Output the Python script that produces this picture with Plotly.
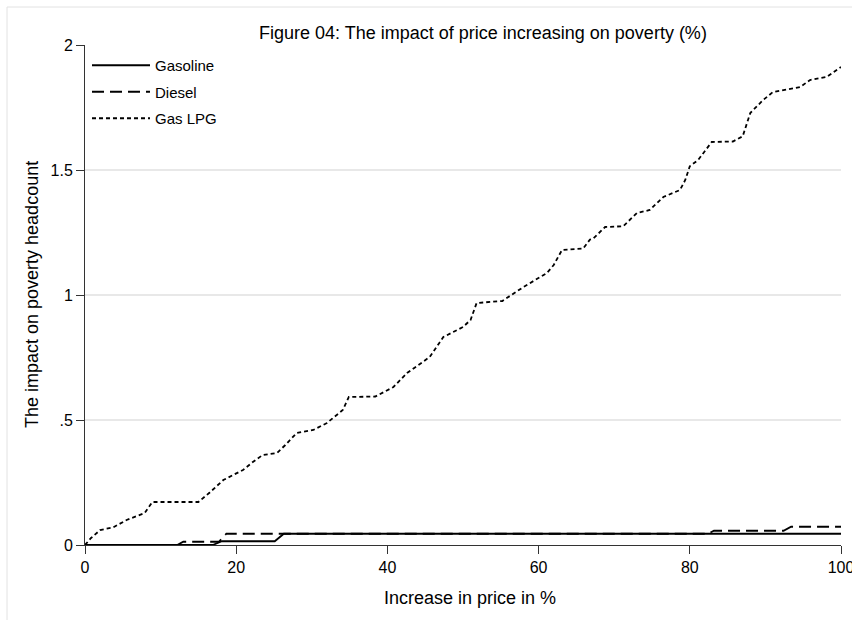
import plotly.graph_objects as go

# Price increase (%) and impact on poverty headcount for each fuel
gasoline_x = [0, 16.9, 18.1, 25.1, 26.3, 100]
gasoline_y = [0, 0, 0.015, 0.015, 0.045, 0.045]

diesel_x = [0, 12.2, 13.0, 17.7, 18.7, 82.4, 83.2, 92.4, 93.4, 100]
diesel_y = [0, 0, 0.013, 0.013, 0.045, 0.045, 0.057, 0.057, 0.073, 0.073]

lpg_x = [0, 0.8, 2.0, 3.7, 5.5, 7.9, 8.9, 15.0, 16.5, 18.3, 20.9, 22.2, 23.5,
         25.4, 26.5, 28.0, 30.2, 32.0, 34.1, 34.9, 38.4, 40.0, 40.8, 42.6,
         45.6, 47.4, 50.0, 51.0, 51.8, 55.2, 58.0, 61.1, 62.0, 63.1, 65.9,
         66.8, 67.2, 68.8, 71.2, 73.0, 74.7, 76.5, 78.7, 79.4, 80.0, 81.1,
         82.9, 85.7, 87.0, 88.0, 89.7, 91.0, 94.6, 95.9, 98.1, 100]
lpg_y = [0, 0.028, 0.06, 0.07, 0.10, 0.128, 0.172, 0.172, 0.21, 0.26, 0.30,
         0.332, 0.36, 0.368, 0.40, 0.448, 0.46, 0.488, 0.54, 0.592, 0.594,
         0.62, 0.632, 0.688, 0.752, 0.832, 0.872, 0.90, 0.968, 0.976, 1.032,
         1.088, 1.12, 1.18, 1.186, 1.222, 1.225, 1.272, 1.275, 1.328, 1.34,
         1.392, 1.42, 1.46, 1.515, 1.54, 1.612, 1.614, 1.635, 1.728, 1.78,
         1.812, 1.832, 1.86, 1.872, 1.912]

x_ticks = [0, 20, 40, 60, 80, 100]
y_ticks = [0, 0.5, 1, 1.5, 2]
y_tick_text = ["0", ".5", "1", "1.5", "2"]

FONT = "Liberation Sans, Arial, sans-serif"
AXIS_COLOR = "#333333"

# plot area in pixels: left 85, right 841, top 45, bottom 545
PL, PW, PT, PH = 85, 756, 45, 500

fig = go.Figure()
fig.add_trace(go.Scatter(x=gasoline_x, y=gasoline_y, mode="lines", name="Gasoline",
                         legendgroup="g1",
                         line=dict(color="black", width=1.8, dash="solid")))
fig.add_trace(go.Scatter(x=diesel_x, y=diesel_y, mode="lines", name="Diesel",
                         legendgroup="g2",
                         line=dict(color="black", width=1.8, dash="12px,6px")))
fig.add_trace(go.Scatter(x=lpg_x, y=lpg_y, mode="lines", name="Gas LPG",
                         legendgroup="g3",
                         line=dict(color="black", width=1.8, dash="4px,3px")))

# Light outer frame of the graph region
fig.add_shape(type="rect", xref="paper", yref="paper",
              x0=(7 - PL) / PW, x1=(900 - PL) / PW,
              y0=-0.3, y1=1 + (PT - 7) / PH,
              line=dict(color="#e2e2e2", width=1), layer="below")

fig.update_layout(
    width=852, height=620,
    margin=dict(l=PL, r=852 - PL - PW, t=PT, b=620 - PT - PH, autoexpand=False),
    paper_bgcolor="white", plot_bgcolor="white",
    font=dict(family=FONT, color="black"),
    showlegend=True,
    legend=dict(x=2 / PW, y=1 - 4 / PH, xanchor="left", yanchor="top",
                bgcolor="rgba(0,0,0,0)", font=dict(size=15, family=FONT),
                tracegroupgap=4, itemwidth=58),
    annotations=[
        dict(text="Figure 04: The impact of price increasing on poverty (%)",
             xref="paper", yref="paper", x=(483 - PL) / PW, y=1 + (PT - 33) / PH,
             xanchor="center", yanchor="middle", showarrow=False,
             font=dict(size=18, family=FONT)),
        dict(text="Increase in price in %",
             xref="paper", yref="paper", x=(470 - PL) / PW, y=-(598 - PT - PH) / PH,
             xanchor="center", yanchor="middle", showarrow=False,
             font=dict(size=18, family=FONT)),
        dict(text="The impact on poverty headcount",
             xref="paper", yref="paper", x=(32 - PL) / PW, y=0.5,
             xanchor="center", yanchor="middle", showarrow=False, textangle=-90,
             font=dict(size=18, family=FONT)),
    ],
)

fig.update_xaxes(
    range=[0, 100], tickvals=x_ticks, automargin=False,
    showline=True, linecolor=AXIS_COLOR, linewidth=1,
    ticks="outside", ticklen=8, tickcolor=AXIS_COLOR,
    showgrid=False, zeroline=False, ticklabeloverflow="allow",
    tickfont=dict(size=16),
)
fig.update_yaxes(
    range=[0, 2], tickvals=y_ticks, ticktext=y_tick_text, automargin=False,
    showline=True, linecolor=AXIS_COLOR, linewidth=1,
    ticks="outside", ticklen=8, tickcolor=AXIS_COLOR,
    showgrid=True, gridcolor="#e8e8e8", gridwidth=1.5, zeroline=False,
    tickfont=dict(size=16),
)

fig.write_html("out.html")
